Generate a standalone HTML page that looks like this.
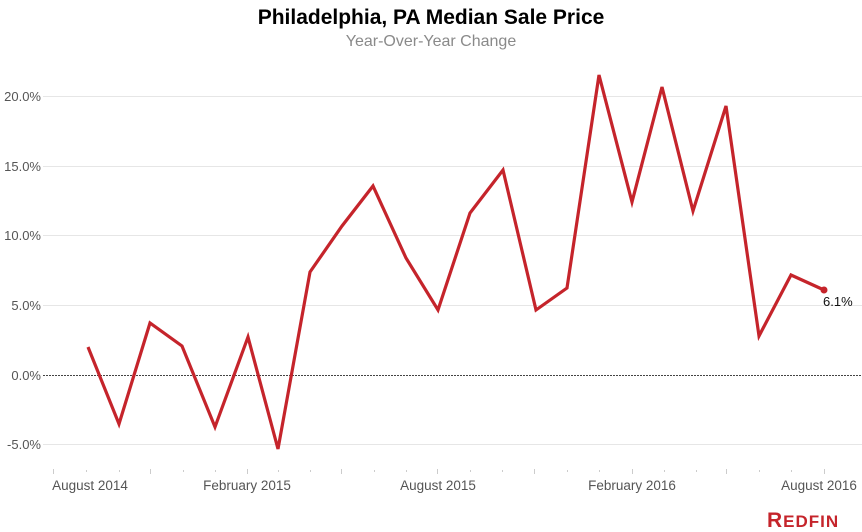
<!DOCTYPE html>
<html><head><meta charset="utf-8"><style>
body{margin:0;background:#fff;}
svg{display:block;font-family:"Liberation Sans",Arial,sans-serif;}
</style></head><body>
<svg width="862" height="532" viewBox="0 0 862 532">
<text x="431" y="24" text-anchor="middle" font-size="21" font-weight="bold" fill="#000">Philadelphia, PA Median Sale Price</text>
<text x="431" y="46" text-anchor="middle" font-size="16" fill="#8a8a8a">Year-Over-Year Change</text>
<g stroke="#e6e6e6" stroke-width="1">
<line x1="43" x2="862" y1="96.5" y2="96.5"/>
<line x1="43" x2="862" y1="166.5" y2="166.5"/>
<line x1="43" x2="862" y1="235.5" y2="235.5"/>
<line x1="43" x2="862" y1="305.5" y2="305.5"/>
<line x1="43" x2="862" y1="444.5" y2="444.5"/>
</g>
<line x1="43" x2="862" y1="375.5" y2="375.5" stroke="#444" stroke-width="1" stroke-dasharray="2,1"/>
<g font-size="13" fill="#555" text-anchor="end">
<text x="41" y="101">20.0%</text>
<text x="41" y="171">15.0%</text>
<text x="41" y="240">10.0%</text>
<text x="41" y="310">5.0%</text>
<text x="41" y="380">0.0%</text>
<text x="41" y="449">-5.0%</text>
</g>
<g stroke="#ccc" stroke-width="1">
<line x1="53.5" x2="53.5" y1="469" y2="474"/><line x1="86.5" x2="86.5" y1="470" y2="472"/><line x1="119.5" x2="119.5" y1="470" y2="472"/><line x1="150.5" x2="150.5" y1="469" y2="474"/><line x1="183.5" x2="183.5" y1="470" y2="472"/><line x1="215.5" x2="215.5" y1="470" y2="472"/><line x1="247.5" x2="247.5" y1="469" y2="474"/><line x1="278.5" x2="278.5" y1="470" y2="472"/><line x1="310.5" x2="310.5" y1="470" y2="472"/><line x1="341.5" x2="341.5" y1="469" y2="474"/><line x1="374.5" x2="374.5" y1="470" y2="472"/><line x1="406.5" x2="406.5" y1="470" y2="472"/><line x1="437.5" x2="437.5" y1="469" y2="474"/><line x1="470.5" x2="470.5" y1="470" y2="472"/><line x1="502.5" x2="502.5" y1="470" y2="472"/><line x1="534.5" x2="534.5" y1="469" y2="474"/><line x1="567.5" x2="567.5" y1="470" y2="472"/><line x1="599.5" x2="599.5" y1="470" y2="472"/><line x1="632.5" x2="632.5" y1="469" y2="474"/><line x1="664.5" x2="664.5" y1="470" y2="472"/><line x1="696.5" x2="696.5" y1="470" y2="472"/><line x1="726.5" x2="726.5" y1="469" y2="474"/><line x1="759.5" x2="759.5" y1="470" y2="472"/><line x1="791.5" x2="791.5" y1="470" y2="472"/><line x1="824.5" x2="824.5" y1="469" y2="474"/>
</g>
<g font-size="13.5" fill="#555" text-anchor="middle">
<text x="90" y="490">August 2014</text>
<text x="247" y="490">February 2015</text>
<text x="438" y="490">August 2015</text>
<text x="632" y="490">February 2016</text>
<text x="819" y="490">August 2016</text>
</g>
<polyline fill="none" stroke="#c5242b" stroke-width="3.2" stroke-linejoin="miter" points="88,347 119,424 150,323 182,346 215,427 248,337 278,449 310,272 342,226 373,186 406,258 438,310 470,213 503,170 536,310 567,288 599,75 632,202 662,87 693,211 726,106 759,336 791,275 824,290"/>
<circle cx="824" cy="290" r="3.5" fill="#c5242b"/>
<text x="823" y="306" font-size="13" fill="#111">6.1%</text>
<text x="767" y="527" font-size="21" font-weight="bold" fill="#c5242b" letter-spacing="1">R<tspan font-size="17">EDFIN</tspan></text>
</svg>
</body></html>
